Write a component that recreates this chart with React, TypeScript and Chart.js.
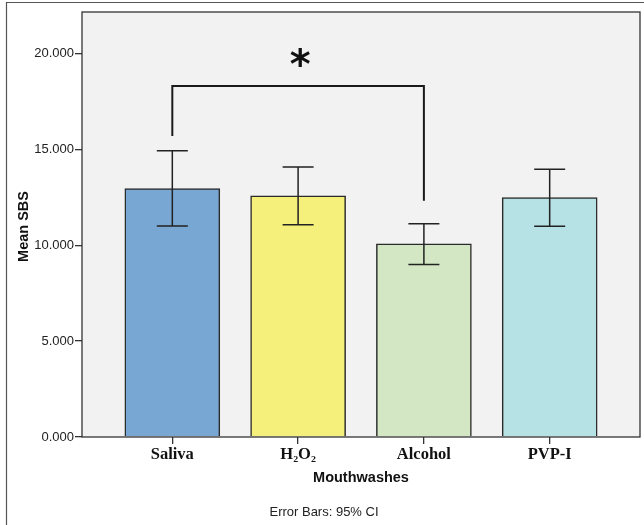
import React, { useEffect, useRef } from "react";
import { Chart, registerables } from "chart.js";

Chart.register(...registerables);

const CATEGORIES = ["Saliva", "H\u2082O\u2082", "Alcohol", "PVP-I"];
const MEANS = [12.95, 12.58, 10.07, 12.48];
const CI_LOWER = [11.0, 11.07, 9.0, 10.99];
const CI_UPPER = [14.92, 14.08, 11.12, 13.96];
const COLORS = ["#78a7d3", "#f5ef7b", "#d4e7c5", "#b6e1e5"];
const Y_TICKS = [0, 5, 10, 15, 20];
// significance bracket between Saliva (0) and Alcohol (2)
const BRACKET_FROM = 0;
const BRACKET_TO = 2;
const BRACKET_TOP = 18.3;
const BRACKET_LEFT_END = 15.7;
const BRACKET_RIGHT_END = 12.32;
const STAR_Y = 19.56;

const overlay = {
  id: "overlay",
  beforeDraw(chart: any) {
    const { ctx, chartArea: a } = chart;
    ctx.save();
    ctx.fillStyle = "#ffffff";
    ctx.fillRect(0, 0, chart.width, chart.height);
    ctx.fillStyle = "#f2f2f2";
    ctx.fillRect(a.left, a.top, a.right - a.left, a.bottom - a.top);
    // outer frame
    ctx.strokeStyle = "#555";
    ctx.lineWidth = 1.2;
    ctx.beginPath();
    ctx.moveTo(6.5, chart.height);
    ctx.lineTo(6.5, 2.5);
    ctx.lineTo(chart.width, 2.5);
    ctx.stroke();
    ctx.restore();
  },
  afterDatasetsDraw(chart: any) {
    const { ctx, chartArea: a } = chart;
    const xs = chart.scales.x;
    const ys = chart.scales.y;
    ctx.save();
    // plot frame
    ctx.strokeStyle = "#333";
    ctx.lineWidth = 1.3;
    ctx.strokeRect(a.left, a.top, a.right - a.left, a.bottom - a.top);
    // error bars
    ctx.strokeStyle = "#222";
    ctx.lineWidth = 1.5;
    for (let i = 0; i < MEANS.length; i++) {
      const x = xs.getPixelForValue(i);
      const yl = ys.getPixelForValue(CI_LOWER[i]);
      const yu = ys.getPixelForValue(CI_UPPER[i]);
      ctx.beginPath();
      ctx.moveTo(x, yl);
      ctx.lineTo(x, yu);
      ctx.moveTo(x - 15.5, yl);
      ctx.lineTo(x + 15.5, yl);
      ctx.moveTo(x - 15.5, yu);
      ctx.lineTo(x + 15.5, yu);
      ctx.stroke();
    }
    // bracket
    const bx1 = xs.getPixelForValue(BRACKET_FROM);
    const bx2 = xs.getPixelForValue(BRACKET_TO);
    ctx.lineWidth = 2;
    ctx.strokeStyle = "#1a1a1a";
    ctx.beginPath();
    ctx.moveTo(bx1, ys.getPixelForValue(BRACKET_LEFT_END));
    ctx.lineTo(bx1, ys.getPixelForValue(BRACKET_TOP));
    ctx.lineTo(bx2, ys.getPixelForValue(BRACKET_TOP));
    ctx.lineTo(bx2, ys.getPixelForValue(BRACKET_RIGHT_END));
    ctx.stroke();
    ctx.fillStyle = "#111";
    ctx.font = "bold 40px 'DejaVu Sans'";
    ctx.textAlign = "center";
    ctx.textBaseline = "middle";
    ctx.fillText("*", (bx1 + bx2) / 2 + 2, ys.getPixelForValue(STAR_Y) + 6);
    // titles
    ctx.font = "bold 14.5px 'Liberation Sans', Arial, sans-serif";
    ctx.fillStyle = "#111";
    ctx.textBaseline = "middle";
    ctx.fillText("Mouthwashes", (a.left + a.right) / 2, 478);
    ctx.save();
    ctx.translate(24, (a.top + a.bottom) / 2 + 2);
    ctx.rotate(-Math.PI / 2);
    ctx.fillText("Mean SBS", 0, 0);
    ctx.restore();
    ctx.font = "13px 'Liberation Sans', Arial, sans-serif";
    ctx.fillStyle = "#222";
    ctx.fillText("Error Bars: 95% CI", 324, 512);
    ctx.restore();
  },
};

export default function App() {
  const ref = useRef<HTMLCanvasElement>(null);
  useEffect(() => {
    const chart = new Chart(ref.current!, {
      type: "bar",
      data: {
        datasets: [
          {
            data: MEANS.map((v, i) => ({ x: i, y: v })),
            backgroundColor: COLORS,
            borderColor: "#2a2a2a",
            borderWidth: 1.5,
            barThickness: 95,
          } as any,
        ],
      },
      plugins: [overlay],
      options: {
        responsive: false,
        animation: false,
        layout: { padding: { top: 12, right: 4, left: 0, bottom: 0 } },
        plugins: { legend: { display: false }, tooltip: { enabled: false } },
        scales: {
          x: {
            type: "linear",
            offset: false,
            min: -0.718,
            max: 3.718,
            afterBuildTicks: (s: any) => {
              s.ticks = CATEGORIES.map((_, i) => ({ value: i }));
            },
            afterFit: (s: any) => {
              s.height = 88;
            },
            grid: { offset: false, drawOnChartArea: false, drawTicks: true, tickLength: 7, color: "#333", lineWidth: 1.3 },
            border: { display: false },
            ticks: {
              callback: (v: any) => CATEGORIES[v] ?? "",
              font: { family: "'Liberation Serif', 'Times New Roman', serif", weight: "bold", size: 16.5 },
              color: "#111",
              padding: 1,
              maxRotation: 0,
              autoSkip: false,
            },
          },
          y: {
            min: 0,
            max: 22.16,
            afterBuildTicks: (s: any) => {
              s.ticks = Y_TICKS.map((v) => ({ value: v }));
            },
            afterFit: (s: any) => {
              s.width = 82;
            },
            grid: { drawOnChartArea: false, drawTicks: true, tickLength: 7, color: "#333", lineWidth: 1.3 },
            border: { display: false },
            ticks: {
              callback: (v: any) => Number(v).toFixed(3),
              font: { family: "'Liberation Sans', Arial, sans-serif", size: 13 },
              color: "#222",
              padding: 1,
            },
          },
        },
      } as any,
    });
    return () => chart.destroy();
  }, []);
  return (
    <div style={{ position: "fixed", left: 0, top: 0, width: 644, height: 525 }}>
      <canvas ref={ref} width={644} height={525} style={{ width: 644, height: 525 }} />
    </div>
  );
}
